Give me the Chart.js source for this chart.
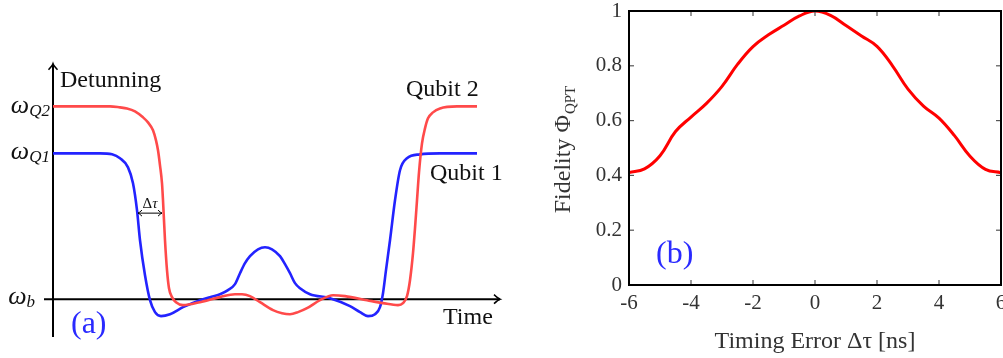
<!DOCTYPE html>
<html>
<head>
<meta charset="utf-8">
<script src="https://cdn.jsdelivr.net/npm/chart.js@4.4.1/dist/chart.umd.min.js"></script>
<style>
  html, body { margin: 0; padding: 0; background: #fff; overflow: hidden; width: 1003px; height: 358px; }
  #pulse { position: absolute; left: 0; top: 0; }
  #fidelity { position: absolute; left: 520px; top: 0; }
</style>
</head>
<body>
<canvas id="pulse" width="520" height="358"></canvas>
<canvas id="fidelity" width="493" height="358"></canvas>
<script>
// (a) detuning pulses for the two qubits (time in arbitrary units, detuning relative to omega_b)
const levelB = 0;
const levelQ1 = 1;
const levelQ2 = 1.32;

const q1Time = [0, 4.7, 5.9, 6.7, 7.5, 8.0, 8.4, 8.7, 9.2, 9.7, 10.2, 10.8, 11.7, 13.0, 14.7, 15.7, 16.7, 17.5, 18.2, 18.7,
  19.2, 19.7, 20.5, 21.2, 21.9, 22.7, 23.2, 23.7, 24.2, 24.7, 25.7, 27.7, 29.7, 30.7, 31.5, 32.2, 32.7, 33.0, 33.3, 33.7,
  34.2, 34.7, 35.4, 36.7, 38.7, 42.4];
const q1Detuning = [1.0, 1.0, 0.993, 0.966, 0.904, 0.795, 0.610, 0.404, 0.164, -0.007, -0.089, -0.116, -0.103, -0.055, -0.007, 0.014, 0.034, 0.062, 0.103, 0.178,
  0.247, 0.295, 0.342, 0.356, 0.342, 0.295, 0.240, 0.178, 0.110, 0.075, 0.034, 0.007, -0.048, -0.089, -0.116, -0.103, -0.055, 0.041, 0.199, 0.404,
  0.678, 0.884, 0.966, 0.993, 1.0, 1.0];

const q2Time = [0, 5.7, 6.7, 7.4, 8.2, 9.0, 9.5, 10.0, 10.3, 10.5, 10.7, 10.9, 11.0, 11.2, 11.4, 11.6, 11.9, 12.3, 13.0, 14.7,
  16.7, 18.2, 18.9, 19.7, 20.7, 22.0, 22.9, 23.7, 24.5, 25.4, 26.7, 28.0, 29.2, 31.4, 33.0, 34.5, 35.0, 35.4, 35.7, 36.0,
  36.2, 36.4, 36.6, 36.9, 37.2, 37.5, 38.0, 38.7, 40.4, 42.4];
const q2Detuning = [1.322, 1.322, 1.315, 1.308, 1.288, 1.247, 1.212, 1.158, 1.089, 1.021, 0.918, 0.795, 0.678, 0.404, 0.199, 0.075, 0.014, -0.021, -0.041, -0.021,
  0.014, 0.034, 0.034, 0.021, -0.021, -0.075, -0.096, -0.103, -0.089, -0.062, -0.007, 0.027, 0.021, -0.007, -0.027, -0.041, -0.027, 0.021, 0.130, 0.315,
  0.486, 0.678, 0.870, 1.068, 1.171, 1.240, 1.281, 1.308, 1.322, 1.322];

// timing offset marker between the two pulses
const delayFrom = 8.5;
const delayTo = 10.9;
const delayLevel = 0.59;

// (b) process fidelity versus timing error
const timingError = [-6, -5.5, -5, -4.5, -4, -3.5, -3, -2.5, -2, -1.5, -1, -0.5, 0, 0.5, 1, 1.5, 2, 2.5, 3, 3.5, 4, 4.5, 5, 5.5, 6];
const fidelity = [0.41, 0.424, 0.472, 0.56, 0.613, 0.663, 0.725, 0.805, 0.87, 0.913, 0.948, 0.982, 1.0, 0.984, 0.947, 0.909, 0.871, 0.80, 0.715, 0.653, 0.609, 0.545, 0.47, 0.422, 0.41];
const errorTicks = [-6, -4, -2, 0, 2, 4, 6];
const fidelityTicks = [0, 0.2, 0.4, 0.6, 0.8, 1];

const serif = "'Liberation Serif', 'Times New Roman', serif";
const pts = (xs, ys) => xs.map((x, i) => ({ x, y: ys[i] }));

function line(ctx, x1, y1, x2, y2) {
  ctx.beginPath();
  ctx.moveTo(x1, y1);
  ctx.lineTo(x2, y2);
  ctx.stroke();
}

// latex style open arrow head, angle = direction it points to
function head(ctx, x, y, angle, len) {
  ctx.save();
  ctx.translate(x, y);
  ctx.rotate(angle);
  ctx.beginPath();
  ctx.moveTo(-len, -len * 0.75);
  ctx.quadraticCurveTo(-len * 0.3, -len * 0.1, 0, 0);
  ctx.quadraticCurveTo(-len * 0.3, len * 0.1, -len, len * 0.75);
  ctx.stroke();
  ctx.restore();
}

function symbolWithSub(ctx, main, sub, right, base, size, subSize) {
  ctx.font = 'italic ' + size + 'px ' + serif;
  const w1 = ctx.measureText(main).width;
  ctx.font = 'italic ' + subSize + 'px ' + serif;
  const w2 = ctx.measureText(sub).width;
  ctx.textAlign = 'left';
  ctx.textBaseline = 'alphabetic';
  ctx.font = 'italic ' + size + 'px ' + serif;
  ctx.fillText(main, right - w1 - w2, base);
  ctx.font = 'italic ' + subSize + 'px ' + serif;
  ctx.fillText(sub, right - w2, base + 3);
}

const pulseDecor = {
  id: 'pulseDecor',
  beforeDatasetsDraw(chart) {
    const { ctx, scales: { x, y } } = chart;
    const x0 = x.getPixelForValue(0);
    const yb = y.getPixelForValue(levelB);
    ctx.save();
    ctx.strokeStyle = '#000';
    ctx.lineWidth = 2;
    line(ctx, x0, y.getPixelForValue(-0.26), x0, y.getPixelForValue(1.615));
    line(ctx, x.getPixelForValue(-0.9), yb, x.getPixelForValue(44.7), yb);
    ctx.lineWidth = 1.5;
    head(ctx, x0, y.getPixelForValue(1.615), -Math.PI / 2, 6);
    head(ctx, x.getPixelForValue(44.7), yb, 0, 6);
    ctx.restore();
  },
  afterDatasetsDraw(chart) {
    const { ctx, scales: { x, y } } = chart;
    ctx.save();
    ctx.fillStyle = '#111';
    ctx.textBaseline = 'alphabetic';
    ctx.font = '24px ' + serif;
    ctx.textAlign = 'left';
    ctx.fillText('Detunning', 60, 87);
    ctx.fillText('Qubit 2', 406, 96);
    ctx.fillText('Qubit 1', 430, 180);
    ctx.fillText('Time', 443, 324);

    symbolWithSub(ctx, '\u03c9', 'Q2', 50, y.getPixelForValue(levelQ2) + 6, 26, 17);
    symbolWithSub(ctx, '\u03c9', 'Q1', 50, y.getPixelForValue(levelQ1) + 6, 26, 17);
    symbolWithSub(ctx, '\u03c9', 'b', 35, y.getPixelForValue(levelB) + 5, 26, 17);

    // timing offset
    const xa = x.getPixelForValue(delayFrom);
    const xb = x.getPixelForValue(delayTo);
    const yd = y.getPixelForValue(delayLevel);
    ctx.strokeStyle = '#000';
    ctx.lineWidth = 1;
    line(ctx, xa, yd, xb, yd);
    head(ctx, xa, yd, Math.PI, 4);
    head(ctx, xb, yd, 0, 4);
    ctx.font = '15px ' + serif;
    const wD = ctx.measureText('\u0394').width;
    ctx.font = 'italic 15px ' + serif;
    const wT = ctx.measureText('\u03c4').width;
    const cx = (xa + xb) / 2 - (wD + wT) / 2;
    ctx.textAlign = 'left';
    ctx.font = '15px ' + serif;
    ctx.fillText('\u0394', cx, yd - 5);
    ctx.font = 'italic 15px ' + serif;
    ctx.fillText('\u03c4', cx + wD, yd - 5);

    ctx.fillStyle = '#2a2aff';
    ctx.font = '32px ' + serif;
    ctx.fillText('(a)', 71, 333);
    ctx.restore();
  }
};

new Chart(document.getElementById('pulse'), {
  type: 'line',
  data: {
    datasets: [
      { label: 'Qubit 2', data: pts(q2Time, q2Detuning), borderColor: '#ff4a4a', borderWidth: 2.6 },
      { label: 'Qubit 1', data: pts(q1Time, q1Detuning), borderColor: '#2323ff', borderWidth: 2.6 }
    ]
  },
  options: {
    responsive: false,
    animation: false,
    devicePixelRatio: 1,
    layout: { padding: { left: 43, right: 17, top: 60, bottom: 18 } },
    elements: { point: { radius: 0 }, line: { cubicInterpolationMode: 'monotone' } },
    plugins: { legend: { display: false }, tooltip: { enabled: false } },
    scales: {
      x: { type: 'linear', min: -1, max: 45, display: false },
      y: { type: 'linear', min: -0.28, max: 1.64, display: false }
    }
  },
  plugins: [pulseDecor]
});

const frameTicks = {
  id: 'frameTicks',
  afterDraw(chart) {
    const { ctx, chartArea: a, scales: { x, y } } = chart;
    ctx.save();
    ctx.strokeStyle = '#555';
    ctx.lineWidth = 1.2;
    errorTicks.forEach(v => {
      const px = x.getPixelForValue(v);
      line(ctx, px, a.bottom, px, a.bottom - 5);
      line(ctx, px, a.top, px, a.top + 5);
    });
    fidelityTicks.forEach(v => {
      const py = y.getPixelForValue(v);
      line(ctx, a.left, py, a.left + 5, py);
      line(ctx, a.right, py, a.right - 5, py);
    });
    ctx.strokeStyle = '#000';
    ctx.lineWidth = 2;
    ctx.strokeRect(a.left, a.top, a.right - a.left, a.bottom - a.top);

    // y axis title with subscript
    ctx.fillStyle = '#333';
    ctx.translate(44, (a.top + a.bottom) / 2 + 2);
    ctx.rotate(-Math.PI / 2);
    ctx.textBaseline = 'middle';
    ctx.textAlign = 'left';
    ctx.font = '24px ' + serif;
    const main = 'Fidelity \u03a6';
    const w1 = ctx.measureText(main).width;
    ctx.font = '15px ' + serif;
    const w2 = ctx.measureText('QPT').width;
    ctx.font = '24px ' + serif;
    ctx.fillText(main, -(w1 + w2) / 2, 0);
    ctx.font = '15px ' + serif;
    ctx.fillText('QPT', -(w1 + w2) / 2 + w1 + 1, 7);
    ctx.restore();

    ctx.save();
    ctx.fillStyle = '#2a2aff';
    ctx.font = '32px ' + serif;
    ctx.textAlign = 'left';
    ctx.textBaseline = 'alphabetic';
    ctx.fillText('(b)', 136, 263);
    ctx.restore();
  }
};

new Chart(document.getElementById('fidelity'), {
  type: 'line',
  data: {
    datasets: [{ label: 'Fidelity', data: pts(timingError, fidelity), borderColor: '#ff0000', borderWidth: 3, tension: 0.4 }]
  },
  options: {
    responsive: false,
    animation: false,
    devicePixelRatio: 1,
    layout: { padding: { left: 0, right: 12, top: 11, bottom: 0 } },
    elements: { point: { radius: 0 } },
    plugins: { legend: { display: false }, tooltip: { enabled: false } },
    scales: {
      x: {
        type: 'linear', min: -6, max: 6,
        afterBuildTicks: s => { s.ticks = errorTicks.map(v => ({ value: v })); },
        afterFit: s => { s.height = 73; s.paddingLeft = 0; s.paddingRight = 0; },
        grid: { display: false, drawTicks: false },
        border: { display: false },
        ticks: { padding: 6, color: '#333', font: { family: serif, size: 21 }, maxRotation: 0, callback: v => String(v) },
        title: { display: true, text: 'Timing Error \u0394\u03c4 [ns]', color: '#333', font: { family: serif, size: 24 }, padding: { top: 0, bottom: 2 } }
      },
      y: {
        type: 'linear', min: 0, max: 1,
        afterBuildTicks: s => { s.ticks = fidelityTicks.map(v => ({ value: v })); },
        afterFit: s => { s.width = 109; s.paddingTop = 0; s.paddingBottom = 0; },
        grid: { display: false, drawTicks: false },
        border: { display: false },
        ticks: { padding: 7, color: '#333', font: { family: serif, size: 21 }, callback: v => String(v) }
      }
    }
  },
  plugins: [frameTicks]
});
</script>
</body>
</html>
